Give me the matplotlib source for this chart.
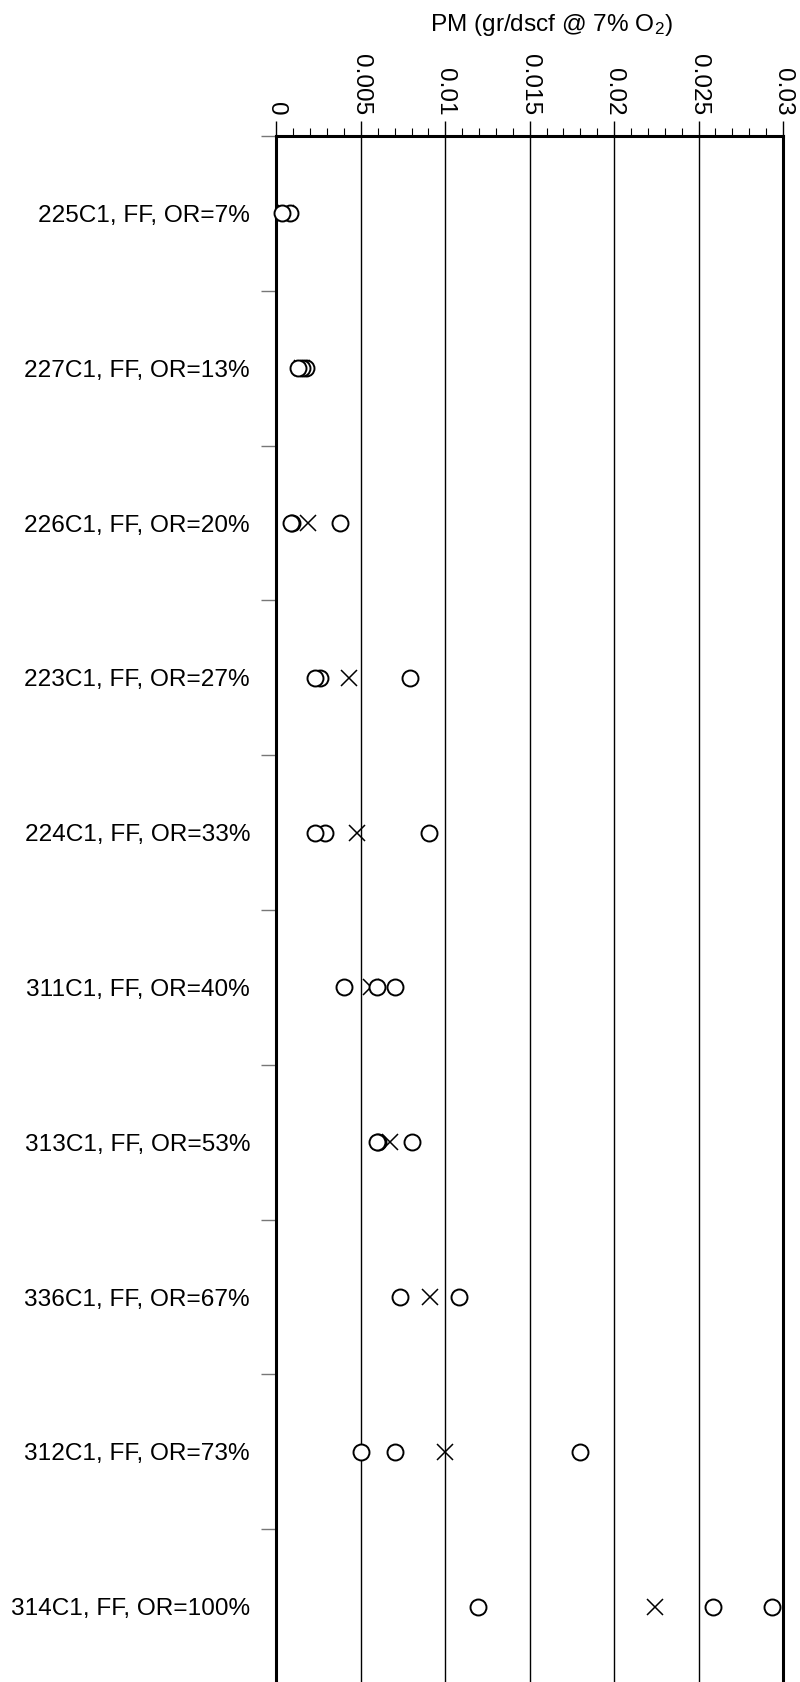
import matplotlib
matplotlib.use("Agg")
import matplotlib.pyplot as plt
from matplotlib.ticker import MultipleLocator, FixedLocator

plt.rcParams['font.family'] = ['Liberation Sans', 'DejaVu Sans']
plt.rcParams['mathtext.fontset'] = 'custom'
plt.rcParams['mathtext.rm'] = 'Liberation Sans'
plt.rcParams['mathtext.default'] = 'regular'

# ---- data ----
conditions = ["225C1, FF, OR=7%", "227C1, FF, OR=13%", "226C1, FF, OR=20%",
              "223C1, FF, OR=27%", "224C1, FF, OR=33%", "311C1, FF, OR=40%",
              "313C1, FF, OR=53%", "336C1, FF, OR=67%", "312C1, FF, OR=73%",
              "314C1, FF, OR=100%"]
run_values = [
    [0.0008, 0.0003],
    [0.00172, 0.0015, 0.00129],
    [0.00379, 0.0009, 0.00084],
    [0.00793, 0.00257, 0.00227],
    [0.00902, 0.00286, 0.00227],
    [0.0070, 0.00595, 0.0040],
    [0.00802, 0.0060, 0.00598],
    [0.0108, 0.00733],
    [0.01796, 0.00704, 0.00503],
    [0.02934, 0.02586, 0.01192],
]
mean_values = [0.00055, 0.0015, 0.00188, 0.0043, 0.00474, 0.00562,
               0.0067, 0.00912, 0.01001, 0.02245]
xtick_values = [0, 0.005, 0.01, 0.015, 0.02, 0.025, 0.03]
xtick_labels = ["0", "0.005", "0.01", "0.015", "0.02", "0.025", "0.03"]
x_title = "PM (gr/dscf @ 7% O$_2$)"

FS = 17.6

# ---- figure ----
fig = plt.figure(figsize=(8.0, 16.82), dpi=100)
ax = fig.add_axes([0.3456, -0.0012, 0.6331, 0.9203])

n = len(conditions)
for i, (vals, m) in enumerate(zip(run_values, mean_values)):
    ax.plot([m], [i], linestyle='none', marker='x', markersize=12,
            markeredgewidth=1.1, color='black', zorder=3, clip_on=False)
    ax.plot(vals, [i] * len(vals), linestyle='none', marker='o',
            markersize=11.5, markeredgewidth=1.4, markerfacecolor='white',
            markeredgecolor='black', zorder=4, clip_on=False)

ax.set_xlim(0, 0.03)
ax.set_ylim(n - 0.5, -0.5)

# x axis on top
ax.xaxis.tick_top()
ax.xaxis.set_major_locator(FixedLocator(xtick_values))
ax.set_xticklabels(xtick_labels, rotation=-90, fontsize=FS)
ax.xaxis.set_minor_locator(MultipleLocator(0.001))
ax.tick_params(axis='x', which='major', direction='out', length=11, width=1.0,
               pad=4, color='black')
ax.tick_params(axis='x', which='minor', direction='out', length=5.5, width=0.8,
               color='black')
ax.grid(axis='x', which='major', color='black', linewidth=1.0, zorder=1)

# y axis: ticks at boundaries, labels at row centres
ax.yaxis.set_major_locator(FixedLocator([i + 0.5 for i in range(-1, n)]))
ax.yaxis.set_major_formatter(plt.NullFormatter())
ax.set_yticks(list(range(n)), minor=True)
ax.set_yticklabels(conditions, minor=True, fontsize=FS)
ax.tick_params(axis='y', which='major', direction='out', length=11, width=1.0,
               color='#777777')
ax.tick_params(axis='y', which='minor', length=0, pad=19)

for side in ['left', 'top', 'right']:
    ax.spines[side].set_linewidth(2.2)
    ax.spines[side].set_color('black')
ax.spines['bottom'].set_linewidth(1.0)
ax.spines['bottom'].set_color('#888888')

fig.text(0.689, 0.9852, x_title, ha='center', va='center', fontsize=FS)

fig.savefig("out.png", dpi=100)
